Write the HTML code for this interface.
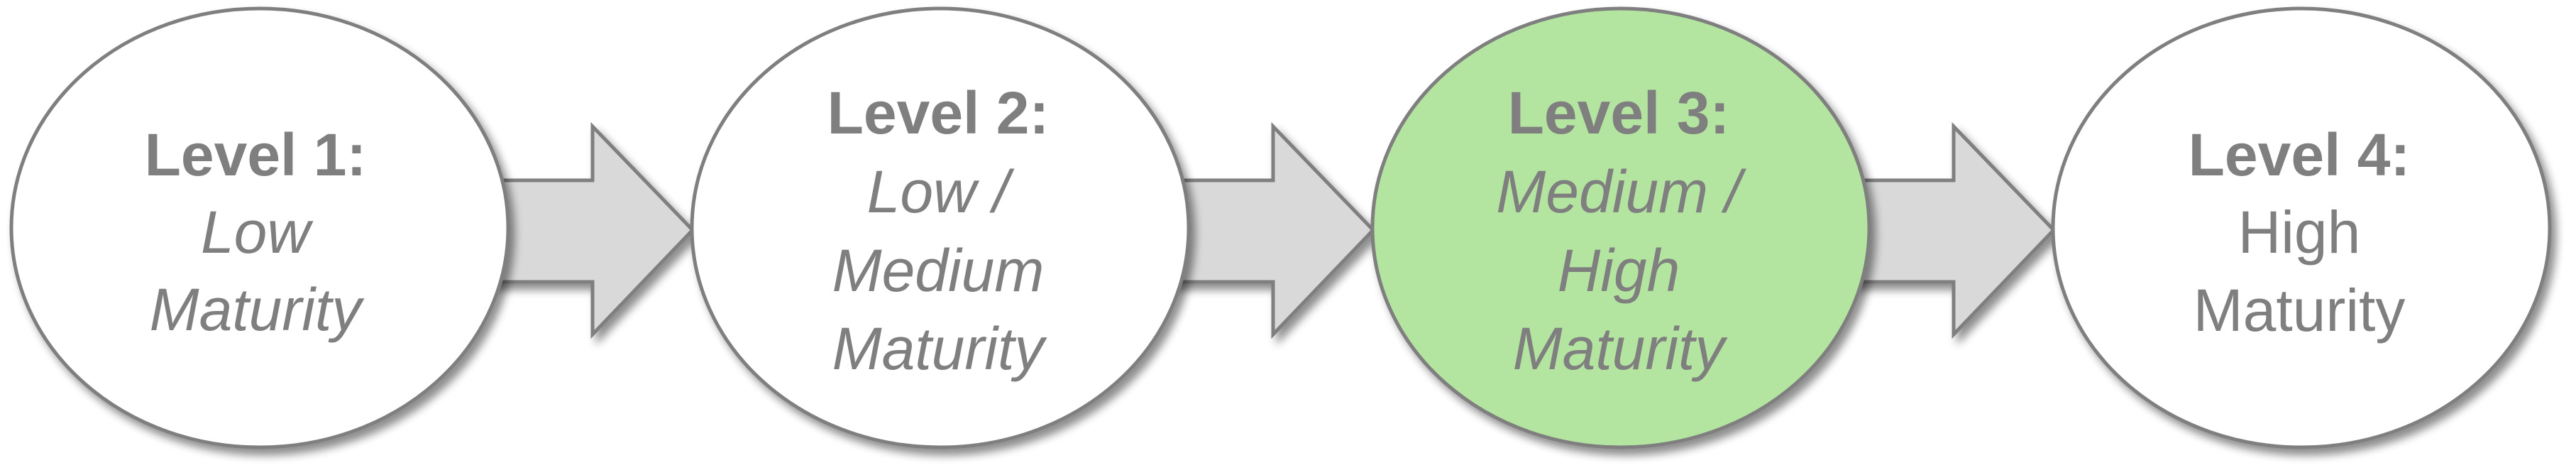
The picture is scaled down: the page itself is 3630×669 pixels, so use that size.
<!DOCTYPE html>
<html><head><meta charset="utf-8"><style>
html,body{margin:0;padding:0;background:#fff;}
svg{display:block;}
text{font-family:"Liberation Sans",sans-serif;fill:#7f7f7f;font-size:84px;text-anchor:middle;}
.b{font-weight:bold;}
.i{font-style:italic;}
</style></head><body>
<svg width="3630" height="669" viewBox="0 0 3630 669" xmlns="http://www.w3.org/2000/svg">
<defs>
<filter id="sh" x="-10%" y="-10%" width="125%" height="125%">
<feGaussianBlur in="SourceAlpha" stdDeviation="6"/>
<feOffset dx="7" dy="9" result="o"/>
<feComponentTransfer><feFuncA type="linear" slope="0.45"/></feComponentTransfer>
<feMerge><feMergeNode/><feMergeNode in="SourceGraphic"/></feMerge>
</filter>
<g id="arr">
<polygon points="690,254 835,254 835,178 976,324 835,471 835,397 690,397" fill="#d9d9d9" stroke="#7f7f7f" stroke-width="5" filter="url(#sh)"/>
</g>
</defs>
<use href="#arr"/>
<use href="#arr" x="959"/>
<use href="#arr" x="1918"/>
<ellipse cx="366" cy="321" rx="350" ry="309" fill="#fff" stroke="#7f7f7f" stroke-width="5" filter="url(#sh)"/>
<ellipse cx="1325" cy="321" rx="350" ry="309" fill="#fff" stroke="#7f7f7f" stroke-width="5" filter="url(#sh)"/>
<ellipse cx="2284" cy="321" rx="350" ry="309" fill="#b3e4a0" stroke="#7f7f7f" stroke-width="5" filter="url(#sh)"/>
<ellipse cx="3243" cy="321" rx="350" ry="309" fill="#fff" stroke="#7f7f7f" stroke-width="5" filter="url(#sh)"/>

<text x="360" y="247" class="b">Level 1:</text>
<text x="360" y="356" class="i">Low</text>
<text x="360" y="465" class="i">Maturity</text>

<text x="1322" y="188" class="b">Level 2:</text>
<text x="1322" y="299" class="i">Low /</text>
<text x="1322" y="410" class="i">Medium</text>
<text x="1322" y="520" class="i">Maturity</text>

<text x="2281" y="188" class="b">Level 3:</text>
<text x="2281" y="299" class="i">Medium /</text>
<text x="2281" y="410" class="i">High</text>
<text x="2281" y="520" class="i">Maturity</text>

<text x="3240" y="247" class="b">Level 4:</text>
<text x="3240" y="356">High</text>
<text x="3240" y="466">Maturity</text>
</svg>
</body></html>
